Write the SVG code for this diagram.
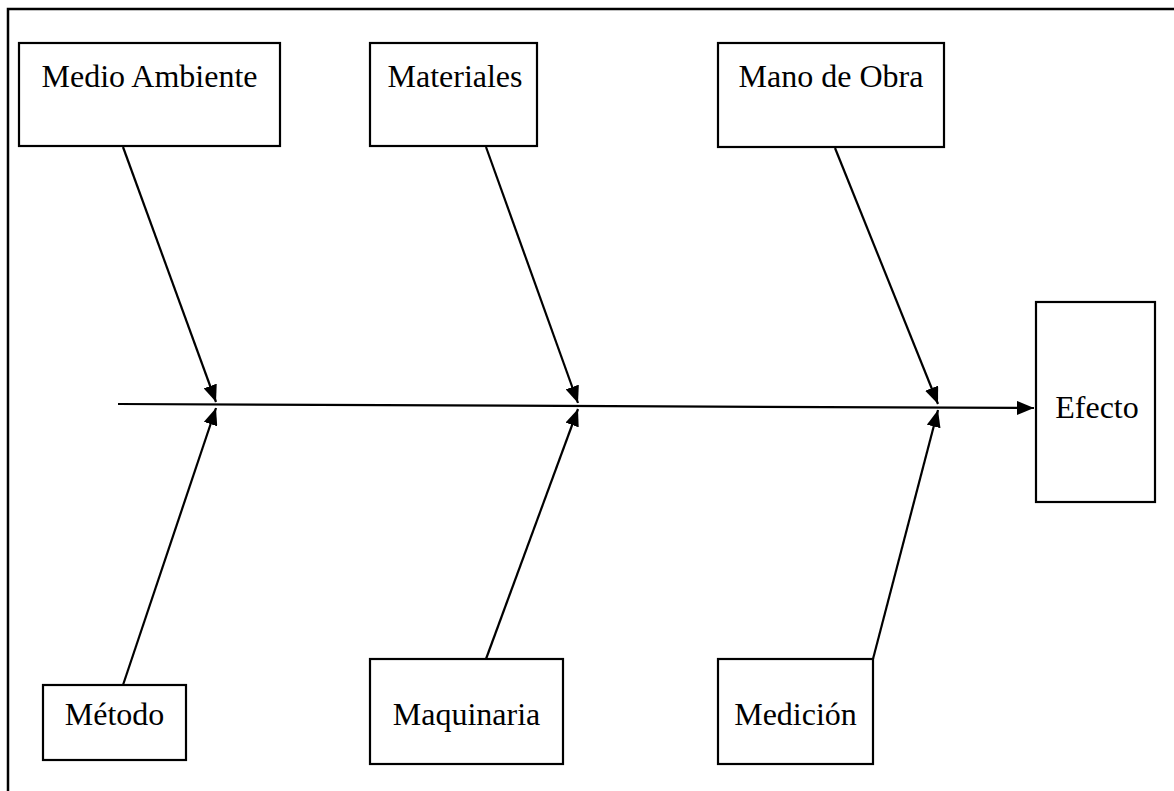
<svg xmlns="http://www.w3.org/2000/svg" width="1174" height="791" viewBox="0 0 1174 791">
<defs>
<style>
.box{fill:#fff;stroke:#000;stroke-width:2.2}
.lbl{font-family:"Liberation Serif","Times New Roman",serif;font-size:32px;fill:#000;text-anchor:middle}
.ln{stroke:#000;stroke-width:2.2;fill:none}
</style>
<marker id="ah2" viewBox="0 0 10 10" refX="10" refY="5" markerWidth="17" markerHeight="14" markerUnits="userSpaceOnUse" orient="auto" preserveAspectRatio="none">
<path d="M0,0 L10,5 L0,10 z" fill="#000"/>
</marker>
</defs>
<rect width="1174" height="791" fill="#fff"/>
<path d="M8,800 L8,9 L1180,9" fill="none" stroke="#000" stroke-width="2.5"/>
<g id="connectors">
<line class="ln" x1="118" y1="404" x2="1034" y2="408" marker-end="url(#ah2)"/>
<line class="ln" x1="123" y1="147" x2="216" y2="402" marker-end="url(#ah2)"/>
<line class="ln" x1="123" y1="685" x2="216" y2="408" marker-end="url(#ah2)"/>
<line class="ln" x1="486" y1="147" x2="578" y2="403" marker-end="url(#ah2)"/>
<line class="ln" x1="486" y1="659" x2="578" y2="409" marker-end="url(#ah2)"/>
<line class="ln" x1="835" y1="148" x2="938" y2="404" marker-end="url(#ah2)"/>
<line class="ln" x1="873" y1="659" x2="938" y2="410" marker-end="url(#ah2)"/>
</g>
<g id="medio-ambiente"><rect class="box" x="19" y="43" width="261" height="103"/><text class="lbl" x="149.5" y="87">Medio Ambiente</text></g>
<g id="materiales"><rect class="box" x="370" y="43" width="167" height="103"/><text class="lbl" x="455" y="87">Materiales</text></g>
<g id="mano-de-obra"><rect class="box" x="718" y="43" width="226" height="104"/><text class="lbl" x="831" y="87">Mano de Obra</text></g>
<g id="efecto"><rect class="box" x="1036" y="302" width="119" height="200"/><text class="lbl" x="1097" y="418">Efecto</text></g>
<g id="metodo"><rect class="box" x="43" y="685" width="143" height="75"/><text class="lbl" x="114.5" y="725">Método</text></g>
<g id="maquinaria"><rect class="box" x="370" y="659" width="193" height="105"/><text class="lbl" x="466.5" y="725">Maquinaria</text></g>
<g id="medicion"><rect class="box" x="718" y="659" width="155" height="105"/><text class="lbl" x="795.5" y="725">Medición</text></g>
</svg>
